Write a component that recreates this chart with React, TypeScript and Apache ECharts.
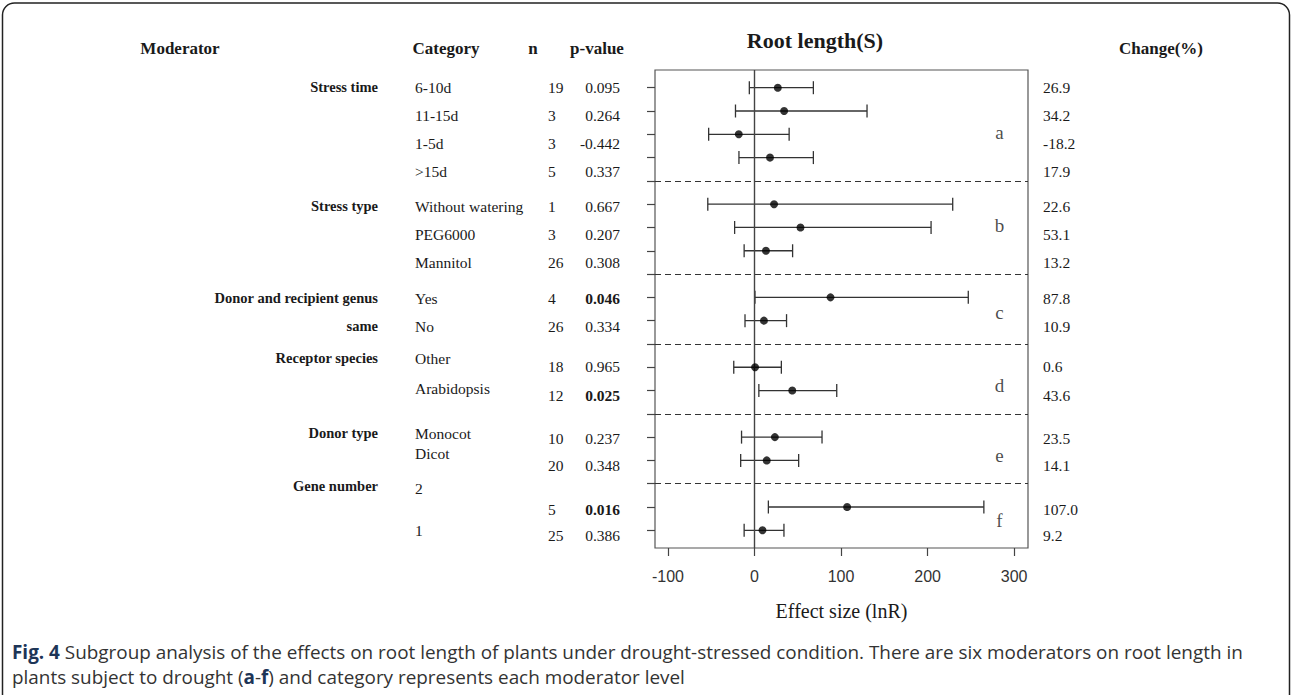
import React, { useEffect, useRef } from "react";
import * as echarts from "echarts";

// ---------- data ----------
const moderators = ["Stress time", "Stress type", "Donor and recipient genus", "same", "Receptor species", "Donor type", "Gene number"];
const categories = ["6-10d", "11-15d", "1-5d", ">15d", "Without watering", "PEG6000", "Mannitol", "Yes", "No", "Other", "Arabidopsis", "Monocot", "Dicot", "2", "1"];
const nValues = [19, 3, 3, 5, 1, 3, 26, 4, 26, 18, 12, 10, 20, 5, 25];
const pValues = ["0.095", "0.264", "-0.442", "0.337", "0.667", "0.207", "0.308", "0.046", "0.334", "0.965", "0.025", "0.237", "0.348", "0.016", "0.386"];
const pSignificant = [false, false, false, false, false, false, false, true, false, false, true, false, false, true, false];
const changePct = [26.9, 34.2, -18.2, 17.9, 22.6, 53.1, 13.2, 87.8, 10.9, 0.6, 43.6, 23.5, 14.1, 107.0, 9.2];
const ciLow = [-6, -22, -53, -18, -54, -23, -12, 0.5, -11, -24, 5, -15, -16, 16, -12];
const ciHigh = [68, 130, 40, 68, 229, 204, 44, 247, 37, 31, 95, 78, 51, 265, 34];
const plotRows = [1, 2, 3, 4, 6, 7, 8, 10, 11, 13, 14, 16, 17, 19, 20];
const separatorRows = [5, 9, 12, 15, 18];
const groupLetters = ["a", "b", "c", "d", "e", "f"];
const xTicks = [-100, 0, 100, 200, 300];
const yTicks = [1, 2, 3, 4, 5, 6, 7, 8, 9, 10, 11, 12, 13, 14, 15, 16, 17, 18, 19, 20];

// ---------- layout (pixels / positions, not data) ----------
const letterRows = [2.92, 6.92, 10.67, 13.77, 16.78, 19.57];
const letterX = 283;
const catY = [87, 115, 143, 171, 206, 234, 262, 298, 326, 358, 388, 433, 453, 488, 530];
const numY = [87, 115, 143, 171, 206, 234, 262, 298, 326, 366, 395, 438, 465, 509, 535];
const modY = [87, 206, 298, 326, 358, 433, 486];

const SERIF = "'Liberation Serif', 'DejaVu Serif', serif";
const SANS = "'Liberation Sans', Arial, sans-serif";
const CAP = "'Open Sans', 'Noto Sans', sans-serif";

export default function App() {
  const ref = useRef<HTMLDivElement>(null);
  useEffect(() => {
    if (!ref.current) return;
    const chart = echarts.init(ref.current, null, { renderer: "svg" });

    const texts: any[] = [];
    const T = (x: number, y: number, text: string, opts: any = {}) =>
      texts.push({
        type: "text",
        x,
        y,
        silent: true,
        style: {
          text,
          fill: opts.fill || "#1a1a1a",
          font: opts.font || `15.5px ${SERIF}`,
          textAlign: opts.align || "left",
          textVerticalAlign: "middle",
        },
      });

    // headers
    T(180, 48, "Moderator", { font: `bold 17px ${SERIF}`, align: "center" });
    T(446, 48, "Category", { font: `bold 17px ${SERIF}`, align: "center" });
    T(533, 48, "n", { font: `bold 17px ${SERIF}`, align: "center" });
    T(597, 48, "p-value", { font: `bold 17px ${SERIF}`, align: "center" });
    T(815, 40, "Root length(S)", { font: `bold 22px ${SERIF}`, align: "center" });
    T(1161, 48, "Change(%)", { font: `bold 17px ${SERIF}`, align: "center" });

    moderators.forEach((m, i) => T(378, modY[i], m, { font: `bold 14.5px ${SERIF}`, align: "right" }));
    categories.forEach((c, i) => T(415, catY[i], c));
    nValues.forEach((n, i) => T(548, numY[i], String(n)));
    pValues.forEach((p, i) =>
      T(620, numY[i], p, { align: "right", font: pSignificant[i] ? `bold 15.5px ${SERIF}` : `15.5px ${SERIF}` })
    );
    changePct.forEach((c, i) => T(1043, numY[i], c.toFixed(1)));

    // caption
    const capFont = `18.9px ${CAP}`;
    const capBold = `bold 18.9px ${CAP}`;
    texts.push({
      type: "text",
      x: 12,
      y: 652,
      silent: true,
      style: {
        text: "{b|Fig. 4} Subgroup analysis of the effects on root length of plants under drought-stressed condition. There are six moderators on root length in",
        font: capFont,
        fill: "#333",
        textVerticalAlign: "middle",
        rich: { b: { font: capBold, fill: "#1d3557" } },
      },
    });
    texts.push({
      type: "text",
      x: 12,
      y: 677,
      silent: true,
      style: {
        text: "plants subject to drought ({b|a}-{b|f}) and category represents each moderator level",
        font: capFont,
        fill: "#333",
        textVerticalAlign: "middle",
        rich: { b: { font: capBold, fill: "#1d3557" } },
      },
    });

    const frame = {
      type: "rect",
      z: -1,
      silent: true,
      shape: { x: 2.5, y: 3, width: 1287, height: 740, r: 12 },
      style: { fill: "none", stroke: "#222", lineWidth: 1.5 },
    };

    const ciData = plotRows.map((r, i) => [ciLow[i], ciHigh[i], r]);
    const pointData = plotRows.map((r, i) => [changePct[i], r]);
    const letterData = letterRows.map((r) => [letterX, r]);

    const option: any = {
      animation: false,
      backgroundColor: "#fff",
      grid: {
        left: 655,
        top: 70,
        width: 373,
        height: 478,
        show: true,
        borderColor: "#555",
        borderWidth: 1.2,
        backgroundColor: "transparent",
      },
      xAxis: {
        type: "value",
        min: -115,
        max: 316,
        axisLine: { show: false, onZero: false },
        splitLine: { show: false },
        axisTick: { show: true, length: 8, customValues: xTicks, lineStyle: { color: "#444", width: 1.2 } },
        axisLabel: {
          customValues: xTicks,
          margin: 20,
          color: "#333",
          fontFamily: SANS,
          fontSize: 16,
          formatter: (v: number) => String(v),
        },
        name: "Effect size (lnR)",
        nameLocation: "middle",
        nameGap: 53,
        nameTextStyle: { fontFamily: SERIF, fontSize: 20, color: "#1a1a1a" },
      },
      yAxis: {
        type: "value",
        inverse: true,
        min: 0.24,
        max: 20.76,
        position: "left",
        axisLine: { show: false, onZero: false },
        splitLine: { show: false },
        axisTick: { show: true, length: 8, customValues: yTicks, lineStyle: { color: "#444", width: 1.2 } },
        axisLabel: { show: false },
      },
      series: [
        {
          type: "custom",
          silent: true,
          data: ciData,
          renderItem: (params: any, api: any) => {
            const a = api.coord([api.value(0), api.value(2)]);
            const b = api.coord([api.value(1), api.value(2)]);
            const h = 6.5;
            const st = { stroke: "#333", lineWidth: 1.3 };
            return {
              type: "group",
              children: [
                { type: "line", shape: { x1: a[0], y1: a[1], x2: b[0], y2: b[1] }, style: st },
                { type: "line", shape: { x1: a[0], y1: a[1] - h, x2: a[0], y2: a[1] + h }, style: st },
                { type: "line", shape: { x1: b[0], y1: b[1] - h, x2: b[0], y2: b[1] + h }, style: st },
              ],
            };
          },
        },
        {
          type: "scatter",
          silent: true,
          data: pointData,
          symbol: "circle",
          symbolSize: 8,
          itemStyle: { color: "#000" },
          z: 5,
          markLine: {
            silent: true,
            symbol: "none",
            label: { show: false },
            data: [
              { xAxis: 0, lineStyle: { type: "solid", color: "#444", width: 1.4 } },
              ...separatorRows.map((r) => ({ yAxis: r, lineStyle: { type: [6, 4], color: "#333", width: 1.2 } })),
            ],
          },
        },
        {
          type: "scatter",
          silent: true,
          data: letterData,
          symbolSize: 0,
          label: {
            show: true,
            position: "inside",
            formatter: (p: any) => groupLetters[p.dataIndex],
            fontFamily: SERIF,
            fontSize: 19,
            color: "#1a1a1a",
          },
        },
      ],
      graphic: [frame, ...texts],
    };

    chart.setOption(option);
    return () => chart.dispose();
  }, []);

  return <div ref={ref} style={{ position: "fixed", left: 0, top: 0, width: 1292, height: 695, background: "#fff" }} />;
}
